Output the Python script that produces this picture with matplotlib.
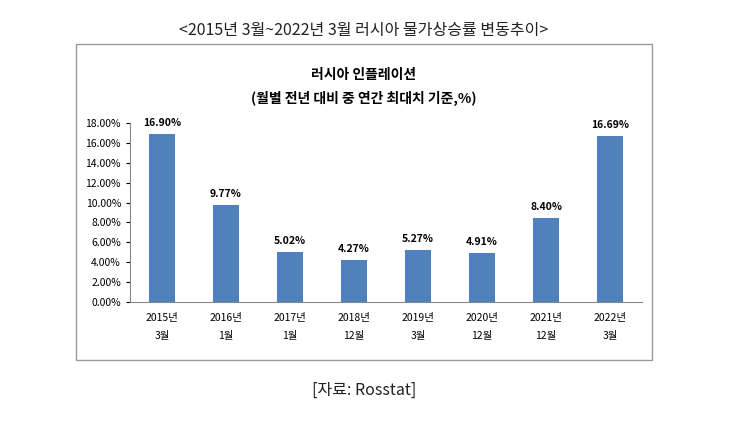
import matplotlib.pyplot as plt
from matplotlib import font_manager
from matplotlib.patches import Rectangle

# pick whatever CJK family is actually registered
names = sorted({f.name for f in font_manager.fontManager.ttflist})
cjk = [n for n in names if "CJK" in n]
for pref in ["Noto Sans CJK KR", "Noto Sans CJK JP", "Noto Sans CJK SC"]:
    if pref in cjk:
        cjk.insert(0, pref)
        break
plt.rcParams["font.family"] = cjk[:1] + ["DejaVu Sans"]

categories = ["2015년\n3월", "2016년\n1월", "2017년\n1월", "2018년\n12월",
              "2019년\n3월", "2020년\n12월", "2021년\n12월", "2022년\n3월"]
values = [16.90, 9.77, 5.02, 4.27, 5.27, 4.91, 8.40, 16.69]
yticks = [0, 2, 4, 6, 8, 10, 12, 14, 16, 18]

W, H = 744, 428
fig = plt.figure(figsize=(W / 100, H / 100), dpi=100)

fig.text(364 / W, 1 - 30 / H, "<2015년 3월~2022년 3월 러시아 물가상승률 변동추이>",
         ha="center", va="center", fontsize=11.5, color="#222222")
fig.text(364 / W, 1 - 390 / H, "[자료: Rosstat]", ha="center", va="center",
         fontsize=11.5, color="#222222")

# chart frame
fig.patches.append(Rectangle((76 / W, 1 - 360 / H), (652 - 76) / W, (360 - 44) / H,
                             transform=fig.transFigure, fill=False,
                             edgecolor="#999999", linewidth=1))
fig.text(364 / W, 1 - 75 / H, "러시아 인플레이션", ha="center", va="center",
         fontsize=10, fontweight="bold")
fig.text(364 / W, 1 - 98 / H, "(월별 전년 대비 중 연간 최대치 기준,%)", ha="center",
         va="center", fontsize=10, fontweight="bold")

ax = fig.add_axes([130 / W, 1 - 302 / H, (642 - 130) / W, (302 - 123) / H])
x = range(len(categories))
ax.bar(x, values, width=0.4, color="#4F81BD")
for i, v in zip(x, values):
    ax.text(i, v + 0.6, f"{v:.2f}%", ha="center", va="bottom", fontsize=7.5,
            fontweight="bold")
ax.set_ylim(0, 18)
ax.set_xlim(-0.5, len(categories) - 0.5)
ax.set_yticks(yticks)
ax.set_yticklabels([f"{t:.2f}%" for t in yticks], fontsize=7.5)
ax.set_xticks(list(x))
ax.set_xticklabels(categories, fontsize=7.5, linespacing=2.0)
ax.tick_params(axis="x", length=0, pad=8)
ax.tick_params(axis="y", length=3)
for s in ["top", "right"]:
    ax.spines[s].set_visible(False)
ax.spines["left"].set_color("#888888")
ax.spines["bottom"].set_color("#888888")

fig.savefig("out.png", dpi=100)
